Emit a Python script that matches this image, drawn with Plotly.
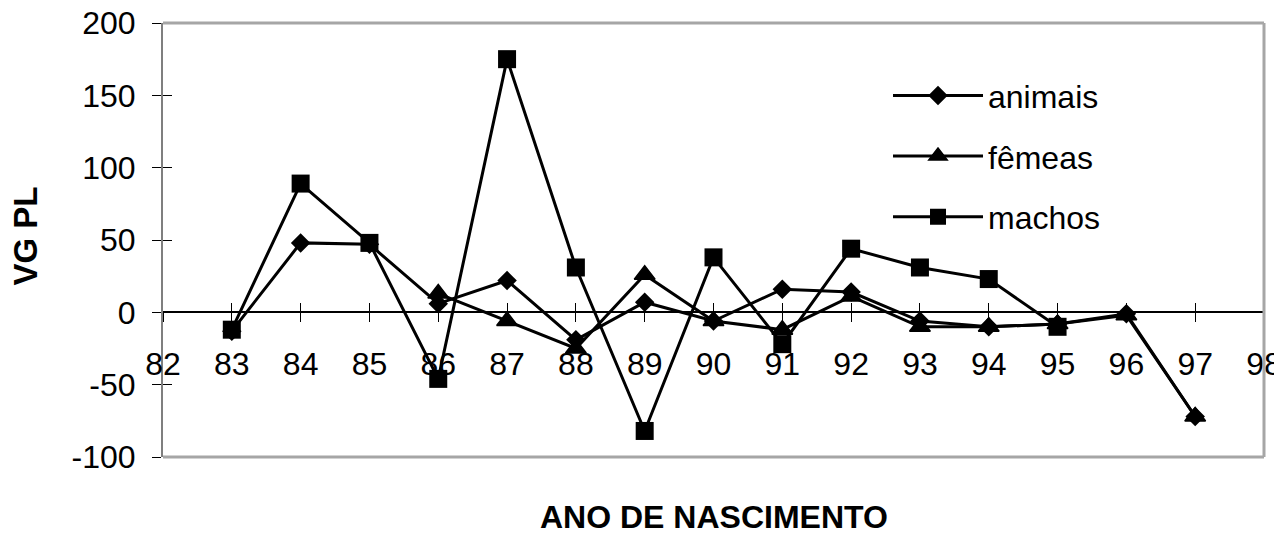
import plotly.graph_objects as go

anos = list(range(83, 98))
anos_femeas = list(range(86, 98))
anos_machos = list(range(83, 96))

animais = [-13, 48, 47, 6, 22, -19, 7, -6, 16, 14, -6, -10, -8, -1, -72]
femeas = [13, -6, -25, 26, -6, -12, 11, -10, -10, -8, -2, -72]
machos = [-12, 89, 48, -46, 175, 31, -82, 38, -22, 44, 31, 23, -10]

x_ticks = list(range(82, 99))
y_ticks = [-100, -50, 0, 50, 100, 150, 200]
y_ticktext = ["-100", "-50", "0", "50", "100", "150", "200"]

FONT = "Arial, Liberation Sans, sans-serif"
FS = 32

fig = go.Figure()
fig.add_trace(go.Scatter(x=anos, y=animais, name="animais", legendgroup="a",
                         mode="lines+markers",
                         line=dict(color="black", width=3),
                         marker=dict(symbol="diamond", size=15, color="black")))
fig.add_trace(go.Scatter(x=anos_femeas, y=femeas, name="fêmeas", legendgroup="f",
                         mode="lines+markers",
                         line=dict(color="black", width=3),
                         marker=dict(symbol="triangle-up", size=18, color="black",
                                     line=dict(color="black", width=1.5))))
fig.add_trace(go.Scatter(x=anos_machos, y=machos, name="machos", legendgroup="m",
                         mode="lines+markers",
                         line=dict(color="black", width=3),
                         marker=dict(symbol="square", size=18, color="black")))

zero_pos = (0 - y_ticks[0]) / (y_ticks[-1] - y_ticks[0])

fig.update_layout(
    width=1274, height=525,
    margin=dict(l=155, r=18, t=15, b=76, autoexpand=False),
    paper_bgcolor="white", plot_bgcolor="white",
    font=dict(family=FONT, size=FS, color="black"),
    showlegend=True,
    legend=dict(x=0.6585, y=0.896, xanchor="left", yanchor="top",
                bgcolor="rgba(0,0,0,0)", itemwidth=90,
                traceorder="grouped", tracegroupgap=16,
                font=dict(family=FONT, size=FS, color="black")),
    xaxis=dict(range=[82, 98], tickmode="array", tickvals=x_ticks,
               showgrid=False, zeroline=False, showline=False, automargin=False,
               anchor="free", position=zero_pos, ticklabeloverflow="allow",
               ticks="outside", ticklen=9, tickwidth=1, tickcolor="black",
               ticklabelstandoff=14,
               tickfont=dict(family=FONT, size=FS, color="black")),
    xaxis2=dict(range=[82, 98], overlaying="x", matches="x", tickmode="array",
                tickvals=x_ticks, showgrid=False, zeroline=False, showline=False,
                anchor="free", position=zero_pos, side="bottom", automargin=False,
                ticks="inside", ticklen=9, tickwidth=1, tickcolor="black",
                showticklabels=False),
    yaxis=dict(range=[-100, 200], tickmode="array", tickvals=y_ticks,
               ticktext=y_ticktext, automargin=False, ticklabeloverflow="allow",
               showgrid=False, zeroline=True, zerolinecolor="black", zerolinewidth=1.5,
               showline=True, linecolor="#7f7f7f", linewidth=2,
               ticks="outside", ticklen=9, tickwidth=1, tickcolor="black",
               ticklabelstandoff=10,
               tickfont=dict(family=FONT, size=FS, color="black")),
    yaxis2=dict(range=[-100, 200], overlaying="y", matches="y", tickmode="array",
                tickvals=y_ticks, showgrid=False, zeroline=False, showline=False,
                automargin=False,
                ticks="inside", ticklen=9, tickwidth=1, tickcolor="black",
                showticklabels=False),
    shapes=[
        dict(type="line", xref="paper", yref="paper", x0=0, x1=1, y0=1, y1=1,
             line=dict(color="#a6a6a6", width=3)),
        dict(type="line", xref="paper", yref="paper", x0=0, x1=1, y0=0, y1=0,
             line=dict(color="#a6a6a6", width=3)),
        dict(type="line", xref="paper", yref="paper", x0=1, x1=1, y0=0, y1=1,
             line=dict(color="#a6a6a6", width=3)),
    ],
    annotations=[
        dict(text="<b>ANO DE NASCIMENTO</b>", xref="paper", yref="paper",
             x=0.5005, y=-0.1394, xanchor="center", yanchor="middle", showarrow=False,
             font=dict(family=FONT, size=FS, color="black")),
        dict(text="<b>VG PL</b>", xref="paper", yref="paper", textangle=-90,
             x=-0.1253, y=0.508, xanchor="center", yanchor="middle", showarrow=False,
             font=dict(family=FONT, size=FS + 1, color="black")),
    ],
)

# invisible point to activate the overlay axes
fig.add_trace(go.Scatter(x=[82], y=[0], xaxis="x2", yaxis="y2", mode="markers",
                         marker=dict(opacity=0), showlegend=False, hoverinfo="skip"))

fig.write_html("out.html")
